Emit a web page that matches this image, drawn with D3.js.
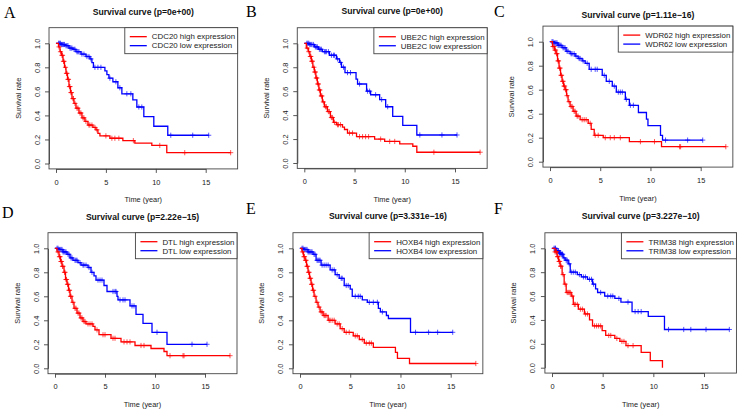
<!DOCTYPE html>
<html><head><meta charset="utf-8">
<script src="https://d3js.org/d3.v7.min.js"></script>
<style>body{margin:0;background:#fff}svg{display:block}</style>
</head><body><svg id="c" width="740" height="412"></svg>
<script>
const panelLetters = ["A","B","C","D","E","F"];
const genes = ["CDC20","UBE2C","WDR62","DTL","HOXB4","TRIM38"];
const pValues = ["0e+00","0e+00","1.11e\u221216","2.22e\u221215","3.331e\u221216","3.227e\u221210"];
const xTicks = [0,5,10,15];
const yTicks = [0,0.2,0.4,0.6,0.8,1.0];

// Kaplan-Meier steps [time, survival] and censor times
const cdc20High = [[0,1],[0.25,0.97],[0.4,0.93],[0.55,0.9],[0.7,0.85],[0.85,0.8],[1.0,0.75],[1.15,0.7],[1.3,0.64],[1.45,0.59],[1.6,0.54],[1.8,0.5],[2.0,0.46],[2.3,0.42],[2.6,0.38],[2.9,0.35],[3.2,0.32],[3.7,0.3],[4.0,0.28],[4.2,0.25],[4.4,0.23],[5.4,0.21],[6.7,0.19],[7.9,0.17],[9.6,0.15],[11.1,0.09],[17.5,0.09]];
const cdc20HighCensor = [0.3,0.45,0.6,0.65,0.75,0.8,0.95,1.05,1.1,1.2,1.25,1.35,1.4,1.5,1.55,1.7,1.75,1.9,2.1,2.2,2.4,2.5,2.7,2.8,3.0,3.3,3.4,3.6,3.9,4.1,5.0,5.6,5.9,6.3,7.75,10.4,12.9,17.5];
const cdc20Low = [[0,1],[0.5,0.99],[0.9,0.98],[1.3,0.96],[1.7,0.95],[2.0,0.93],[2.5,0.91],[3.0,0.89],[3.4,0.87],[3.6,0.84],[3.75,0.8],[4.9,0.77],[5.1,0.74],[5.3,0.71],[5.7,0.68],[6.2,0.63],[6.6,0.58],[7.7,0.53],[8.1,0.47],[8.8,0.39],[9.8,0.31],[11.2,0.235],[15.3,0.235]];
const cdc20LowCensor = [0.25,0.35,0.45,0.55,0.65,0.75,0.85,1.0,1.1,1.2,1.4,1.5,1.6,1.8,1.9,2.1,2.2,2.3,2.6,2.8,3.1,3.3,3.5,3.9,4.2,4.5,5.4,6.0,6.4,7.1,7.5,8.3,8.6,11.5,13.7,15.3];

const ube2cHigh = [[0,1],[0.2,0.96],[0.4,0.93],[0.55,0.89],[0.7,0.85],[0.85,0.8],[1.0,0.76],[1.15,0.71],[1.3,0.66],[1.45,0.61],[1.6,0.56],[1.8,0.51],[2.0,0.47],[2.3,0.43],[2.6,0.38],[2.9,0.34],[3.2,0.32],[3.8,0.3],[4.0,0.28],[4.3,0.25],[5.2,0.22],[7.0,0.2],[8.0,0.18],[9.5,0.16],[10.8,0.14],[11.2,0.09],[17.5,0.09]];
const ube2cHighCensor = [0.3,0.45,0.6,0.65,0.75,0.8,0.95,1.05,1.1,1.2,1.25,1.35,1.4,1.5,1.55,1.7,1.75,1.9,2.1,2.2,2.4,2.5,2.7,2.8,3.0,3.3,3.4,3.6,4.5,4.8,5.5,5.8,6.1,6.4,7.6,8.5,9.0,12.9,17.5];
const ube2cLow = [[0,1],[0.5,0.99],[1.0,0.97],[1.4,0.95],[1.8,0.93],[2.5,0.9],[3.2,0.87],[3.5,0.84],[3.7,0.8],[4.05,0.755],[5.15,0.7],[5.3,0.66],[6.2,0.6],[6.6,0.57],[7.5,0.53],[8.1,0.47],[8.8,0.39],[9.8,0.315],[11.2,0.234],[15.2,0.234]];
const ube2cLowCensor = [0.25,0.35,0.45,0.55,0.65,0.75,0.9,1.1,1.2,1.3,1.5,1.6,1.7,2.0,2.1,2.2,2.4,2.7,2.9,3.0,3.3,3.6,3.9,4.3,4.6,5.5,6.3,6.5,7.1,7.7,8.3,11.5,13.7,15.2];

const wdr62High = [[0,1],[0.25,0.96],[0.45,0.93],[0.6,0.9],[0.75,0.84],[0.9,0.78],[1.05,0.72],[1.2,0.67],[1.35,0.63],[1.5,0.6],[1.65,0.55],[1.8,0.5],[2.0,0.46],[2.3,0.42],[2.6,0.38],[3.0,0.35],[3.8,0.32],[4.1,0.27],[4.4,0.22],[5.3,0.2],[7.9,0.167],[11.1,0.125],[17.5,0.125]];
const wdr62HighCensor = [0.3,0.4,0.5,0.55,0.65,0.7,0.8,0.85,0.95,1.0,1.1,1.15,1.25,1.3,1.4,1.45,1.55,1.6,1.7,1.9,2.1,2.2,2.4,2.5,2.7,2.8,3.2,3.4,3.6,4.0,4.5,4.8,5.5,6.0,6.4,7.0,9.0,10.4,12.9,13.0,17.5];
const wdr62Low = [[0,1],[0.4,0.99],[0.8,0.97],[1.2,0.95],[1.6,0.92],[2.0,0.9],[2.5,0.88],[2.8,0.86],[3.2,0.84],[3.5,0.82],[3.9,0.77],[5.2,0.72],[5.6,0.67],[6.2,0.63],[6.6,0.58],[7.5,0.52],[7.9,0.47],[8.8,0.41],[9.6,0.355],[9.75,0.3],[11.0,0.22],[11.2,0.18],[15.2,0.18]];
const wdr62LowCensor = [0.2,0.3,0.4,0.5,0.6,0.7,0.8,0.9,1.0,1.1,1.3,1.4,1.5,1.7,1.8,2.1,2.2,2.4,2.6,2.9,3.0,3.3,3.7,4.1,4.5,4.7,5.4,5.9,6.4,6.8,7.0,7.2,7.6,8.0,8.3,11.5,13.7,15.2];

const dtlHigh = [[0,1],[0.2,0.97],[0.4,0.93],[0.55,0.89],[0.7,0.85],[0.9,0.8],[1.05,0.74],[1.2,0.7],[1.35,0.65],[1.5,0.6],[1.7,0.55],[1.9,0.5],[2.2,0.46],[2.5,0.42],[2.8,0.39],[3.1,0.37],[3.8,0.35],[4.0,0.32],[4.4,0.28],[5.6,0.25],[6.6,0.22],[8.0,0.19],[9.6,0.165],[10.9,0.14],[11.2,0.105],[17.5,0.105]];
const dtlHighCensor = [0.3,0.45,0.5,0.6,0.65,0.75,0.8,0.95,1.0,1.1,1.15,1.25,1.3,1.4,1.45,1.55,1.6,1.8,2.0,2.1,2.3,2.4,2.6,2.7,2.9,3.0,3.3,3.5,3.7,4.2,4.8,5.0,5.8,6.0,6.9,7.2,7.5,8.6,8.9,11.5,12.8,12.9,17.5];
const dtlLow = [[0,1],[0.4,0.99],[0.8,0.97],[1.2,0.95],[1.5,0.92],[1.8,0.9],[2.3,0.88],[2.6,0.86],[3.3,0.84],[3.6,0.8],[3.9,0.77],[4.1,0.735],[4.9,0.69],[5.2,0.64],[6.2,0.6],[6.3,0.57],[7.5,0.52],[8.1,0.45],[8.8,0.375],[9.7,0.3],[11.2,0.2],[15.2,0.2]];
const dtlLowCensor = [0.2,0.3,0.4,0.5,0.6,0.7,0.8,0.9,1.0,1.1,1.3,1.4,1.6,1.7,2.0,2.1,2.2,2.5,2.8,2.9,3.1,3.4,3.7,4.3,4.5,4.7,5.8,6.0,6.1,6.5,6.8,7.0,7.7,7.9,10.2,13.7,15.2];

const hoxb4High = [[0,1],[0.2,0.97],[0.35,0.93],[0.5,0.9],[0.65,0.85],[0.8,0.8],[0.95,0.75],[1.1,0.7],[1.25,0.65],[1.4,0.6],[1.6,0.55],[1.8,0.51],[2.0,0.47],[2.3,0.44],[2.8,0.4],[3.5,0.37],[4.0,0.33],[4.4,0.3],[5.3,0.27],[5.9,0.24],[6.4,0.21],[7.3,0.175],[9.5,0.133],[9.7,0.083],[10.9,0.04],[17.5,0.04]];
const hoxb4HighCensor = [0.25,0.4,0.45,0.55,0.6,0.7,0.75,0.85,0.9,1.0,1.05,1.15,1.2,1.3,1.35,1.5,1.7,1.9,2.1,2.2,2.4,2.5,2.6,2.9,3.0,3.2,3.4,3.7,3.9,4.2,4.6,4.9,5.5,5.7,6.2,6.6,6.9,7.1,17.5];
const hoxb4Low = [[0,1],[0.4,0.99],[0.8,0.97],[1.3,0.95],[1.6,0.9],[2.1,0.86],[3.0,0.82],[3.5,0.78],[3.9,0.75],[4.4,0.69],[5.0,0.66],[5.2,0.6],[6.2,0.57],[6.7,0.55],[7.8,0.5],[8.0,0.47],[8.6,0.44],[8.8,0.415],[11.0,0.3],[15.2,0.3]];
const hoxb4LowCensor = [0.2,0.3,0.4,0.5,0.6,0.7,0.8,0.9,1.0,1.1,1.2,1.4,1.5,1.7,1.8,1.9,2.0,2.2,2.4,2.6,2.8,3.2,3.4,3.7,4.1,4.2,4.6,4.8,5.5,5.8,6.0,6.9,7.3,7.7,8.2,11.5,12.8,13.7,15.2];

const trim38High = [[0,1],[0.3,0.97],[0.5,0.93],[0.65,0.89],[0.8,0.85],[1.0,0.78],[1.2,0.7],[1.4,0.63],[1.9,0.6],[2.1,0.53],[2.6,0.49],[3.2,0.45],[3.7,0.4],[4.0,0.35],[4.95,0.31],[5.3,0.27],[6.2,0.245],[6.7,0.22],[7.3,0.185],[8.8,0.128],[9.7,0.06],[10.9,0],[10.9,0]];
const trim38HighCensor = [0.3,0.4,0.45,0.55,0.6,0.7,0.75,0.85,0.9,1.1,1.3,1.5,1.6,1.7,1.8,2.0,2.2,2.3,2.5,2.8,3.0,3.3,3.5,4.2,4.4,4.6,4.8,5.6,5.8,6.4,6.9,7.1,7.5,8.0];
const trim38Low = [[0,1],[0.4,0.98],[0.7,0.96],[0.9,0.95],[1.1,0.92],[1.3,0.9],[1.6,0.87],[1.8,0.8],[2.5,0.78],[2.9,0.76],[3.5,0.74],[4.0,0.7],[4.3,0.66],[4.5,0.63],[5.2,0.6],[6.2,0.58],[6.8,0.55],[7.9,0.47],[9.5,0.43],[11.1,0.32],[17.5,0.32]];
const trim38LowCensor = [0.2,0.3,0.35,0.45,0.5,0.6,0.65,0.75,0.8,0.85,0.95,1.0,1.05,1.2,1.4,1.5,1.7,1.9,2.1,2.3,2.7,3.1,3.3,3.7,3.9,4.1,4.8,5.5,5.8,6.0,6.6,7.5,8.2,8.5,8.8,11.5,13.0,13.7,15.2,17.5];

const highCurves = [cdc20High, ube2cHigh, wdr62High, dtlHigh, hoxb4High, trim38High];
const highCensors = [cdc20HighCensor, ube2cHighCensor, wdr62HighCensor, dtlHighCensor, hoxb4HighCensor, trim38HighCensor];
const lowCurves = [cdc20Low, ube2cLow, wdr62Low, dtlLow, hoxb4Low, trim38Low];
const lowCensors = [cdc20LowCensor, ube2cLowCensor, wdr62LowCensor, dtlLowCensor, hoxb4LowCensor, trim38LowCensor];

// layout (pixel positions of axis values 0/15 and 0/1, title baseline, letter position)
const layout = [
  {x0:56,   x15:205.7, y0:163.5, y1:43.3,  titleY:14.7,  lx:4,   ly:18},
  {x0:304.3,x15:455,   y0:163,   y1:43.3,  titleY:13.5,  lx:246, ly:17},
  {x0:550,  x15:700.7, y0:161.7, y1:41.7,  titleY:18,    lx:494, ly:17},
  {x0:55,   x15:205,   y0:368.3, y1:248.3, titleY:219.7, lx:2,   ly:218},
  {x0:300,  x15:450.7, y0:368.3, y1:248.3, titleY:218.7, lx:246, ly:214},
  {x0:552,  x15:704,   y0:367.7, y1:248.3, titleY:219,   lx:494, ly:214}
];

const RED = "#ff0000", BLUE = "#0000ff";
const svg = d3.select("#c");
const sans = "'Liberation Sans', Arial, sans-serif";

layout.forEach((L, i) => {
  const x = d3.scaleLinear().domain([0, 15]).range([L.x0, L.x15]);
  const y = d3.scaleLinear().domain([0, 1]).range([L.y0, L.y1]);
  const bl = x(-0.7), br = x(18.2), bt = y(1.13), bb = y(-0.045);
  const g = svg.append("g");

  // panel letter
  svg.append("text").attr("x", L.lx).attr("y", L.ly)
    .attr("font-family", "'Liberation Serif', 'Times New Roman', serif")
    .attr("font-size", 16).attr("fill", "#000").text(panelLetters[i]);

  // title
  g.append("text").attr("x", (bl + br) / 2).attr("y", L.titleY)
    .attr("text-anchor", "middle").attr("font-family", sans)
    .attr("font-weight", "bold").attr("font-size", 8.6).attr("fill", "#111")
    .text(`Survival curve (p=${pValues[i]})`);

  // curves
  const line = d3.line().curve(d3.curveStepAfter).x(d => x(d[0])).y(d => y(d[1]));
  const clip = g.append("g");
  const drawCurve = (steps, cens, color) => {
    clip.append("path").datum(steps).attr("d", line)
      .attr("fill", "none").attr("stroke", color).attr("stroke-width", 1.3);
    const bis = d3.bisector(d => d[0]).right;
    clip.append("g").selectAll("path").data(cens).join("path")
      .attr("d", t => {
        const k = Math.max(0, bis(steps, t) - 1);
        const px = x(t), py = y(steps[k][1]);
        return `M${px - 2.6},${py}h5.2M${px},${py - 2.6}v5.2`;
      })
      .attr("stroke", color).attr("stroke-width", 0.9).attr("opacity", 0.75).attr("fill", "none");
  };
  drawCurve(lowCurves[i], lowCensors[i], BLUE);
  drawCurve(highCurves[i], highCensors[i], RED);

  // box
  g.append("rect").attr("x", bl).attr("y", bt).attr("width", br - bl).attr("height", bb - bt)
    .attr("fill", "none").attr("stroke", "#444").attr("stroke-width", 0.9);

  // axes
  const xa = g.append("g").attr("transform", `translate(0,${bb})`)
    .call(d3.axisBottom(x).tickValues(xTicks).tickSize(4).tickSizeOuter(0).tickPadding(6.5).tickFormat(d3.format("d")));
  const ya = g.append("g").attr("transform", `translate(${bl},0)`)
    .call(d3.axisLeft(y).tickValues(yTicks).tickSize(4).tickSizeOuter(0).tickFormat(d3.format(".1f")));
  [xa, ya].forEach(a => {
    a.selectAll("path.domain").attr("stroke", "#444").attr("stroke-width", 0.9);
    a.selectAll(".tick line").attr("stroke", "#444").attr("stroke-width", 0.9);
    a.selectAll("text").attr("font-family", sans).attr("font-size", 7.4).attr("fill", "#222");
  });
  ya.selectAll(".tick text").attr("transform", "rotate(-90)")
    .attr("x", 0).attr("y", -9.5).attr("dy", 0).attr("text-anchor", "middle");

  // axis titles
  g.append("text").attr("x", (bl + br) / 2).attr("y", bb + 33.5)
    .attr("text-anchor", "middle").attr("font-family", sans).attr("font-size", 7.4).attr("fill", "#222")
    .text("Time (year)");
  g.append("text").attr("transform", `translate(${bl - 28.5},${(bt + bb) / 2}) rotate(-90)`)
    .attr("text-anchor", "middle").attr("font-family", sans).attr("font-size", 7.4).attr("fill", "#222")
    .text("Survival rate");

  // legend
  const lg = g.append("g");
  const labels = [`${genes[i]} high expression`, `${genes[i]} low expression`];
  const texts = lg.selectAll("text").data(labels).join("text")
    .attr("font-family", sans).attr("font-size", 7.9).attr("fill", "#222")
    .attr("y", (d, j) => bt + 9 + j * 9 + 2.8).text(d => d);
  const tw = d3.max(texts.nodes(), n => n.getComputedTextLength());
  const tx = br - 2.5 - tw;
  texts.attr("x", tx);
  lg.insert("rect", "text").attr("x", tx - 27).attr("y", bt).attr("width", br - (tx - 27)).attr("height", 26)
    .attr("fill", "#fff").attr("stroke", "#444").attr("stroke-width", 0.9);
  lg.selectAll("line").data([RED, BLUE]).join("line")
    .attr("x1", tx - 22).attr("x2", tx - 5)
    .attr("y1", (d, j) => bt + 9 + j * 9).attr("y2", (d, j) => bt + 9 + j * 9)
    .attr("stroke", d => d).attr("stroke-width", 1.3);
});
</script></body></html>
